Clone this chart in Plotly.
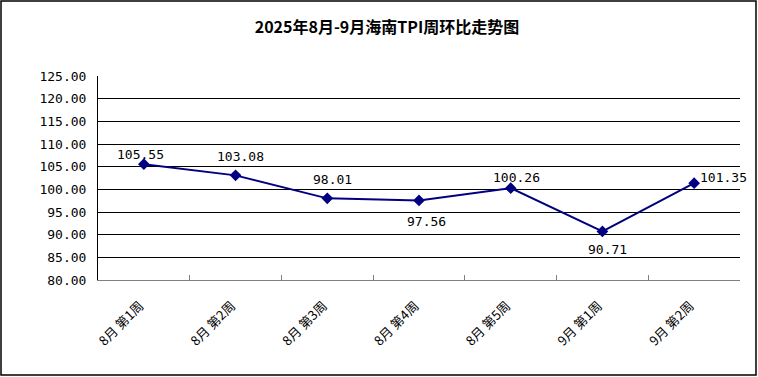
import plotly.graph_objects as go

categories = ["8月 第1周", "8月 第2周", "8月 第3周", "8月 第4周", "8月 第5周", "9月 第1周", "9月 第2周"]
values = [105.55, 103.08, 98.01, 97.56, 100.26, 90.71, 101.35]
y_tick_values = [80, 85, 90, 95, 100, 105, 110, 115, 120, 125]
title_text = "2025年8月-9月海南TPI周环比走势图"

# label offsets in pixels (style only)
label_dx = [-3, 5, 5, 7, 6, 5, 29]
label_dy = [10, 19, 19, -21, 11, -18, 6]

W, H = 758, 377
ml, mr, mt, mb = 98, 18, 76, 97
pw, ph = W - ml - mr, H - mt - mb

fig = go.Figure()
fig.add_trace(go.Scatter(
    x=categories, y=values,
    mode="lines+markers",
    line=dict(color="#000080", width=2),
    marker=dict(symbol="diamond", size=9, color="#000080"),
    cliponaxis=False,
    showlegend=False,
))

for c, v, dx, dy in zip(categories, values, label_dx, label_dy):
    fig.add_annotation(x=c, y=v, text=f"{v:.2f}", showarrow=False,
                       xanchor="center", yanchor="middle", xshift=dx, yshift=dy,
                       font=dict(family="DejaVu Sans Mono", size=13, color="black"))

fig.update_layout(
    width=W, height=H,
    margin=dict(l=ml, r=mr, t=mt, b=mb),
    paper_bgcolor="white", plot_bgcolor="white",
    title=dict(text=title_text, x=387 / W, xref="container", xanchor="center",
               y=1 - 27 / H, yanchor="middle",
               font=dict(family="Noto Sans CJK SC", size=16, color="black", weight="bold")),
    xaxis=dict(
        type="category", range=[-0.5, len(categories) - 0.5],
        showgrid=False, showline=True, linecolor="#808080", linewidth=1,
        ticks="inside", tickson="boundaries", ticklen=5, tickcolor="#808080",
        tickangle=-45, ticklabelstandoff=12, ticklabelshift=-4,
        tickfont=dict(family="Noto Sans CJK SC", size=13, color="black"),
    ),
    yaxis=dict(
        range=[80, 125], tickvals=y_tick_values, tickformat=".2f",
        showgrid=True, gridcolor="black", gridwidth=1,
        showline=True, linecolor="black", linewidth=1,
        zeroline=False, ticks="", ticklabelstandoff=8,
        tickfont=dict(family="DejaVu Sans Mono", size=13, color="black"),
    ),
    shapes=[dict(type="rect", xref="paper", yref="paper",
                 x0=(1 - ml) / pw, x1=(W - 2 - ml) / pw,
                 y0=-(H - 2 - mt - ph) / ph, y1=1 + (mt - 1) / ph,
                 line=dict(color="black", width=1.5), fillcolor="rgba(0,0,0,0)")],
)

fig.write_html("out.html", config={"displayModeBar": False},
               post_script="document.body.style.margin='0';document.body.style.overflow='hidden';")
